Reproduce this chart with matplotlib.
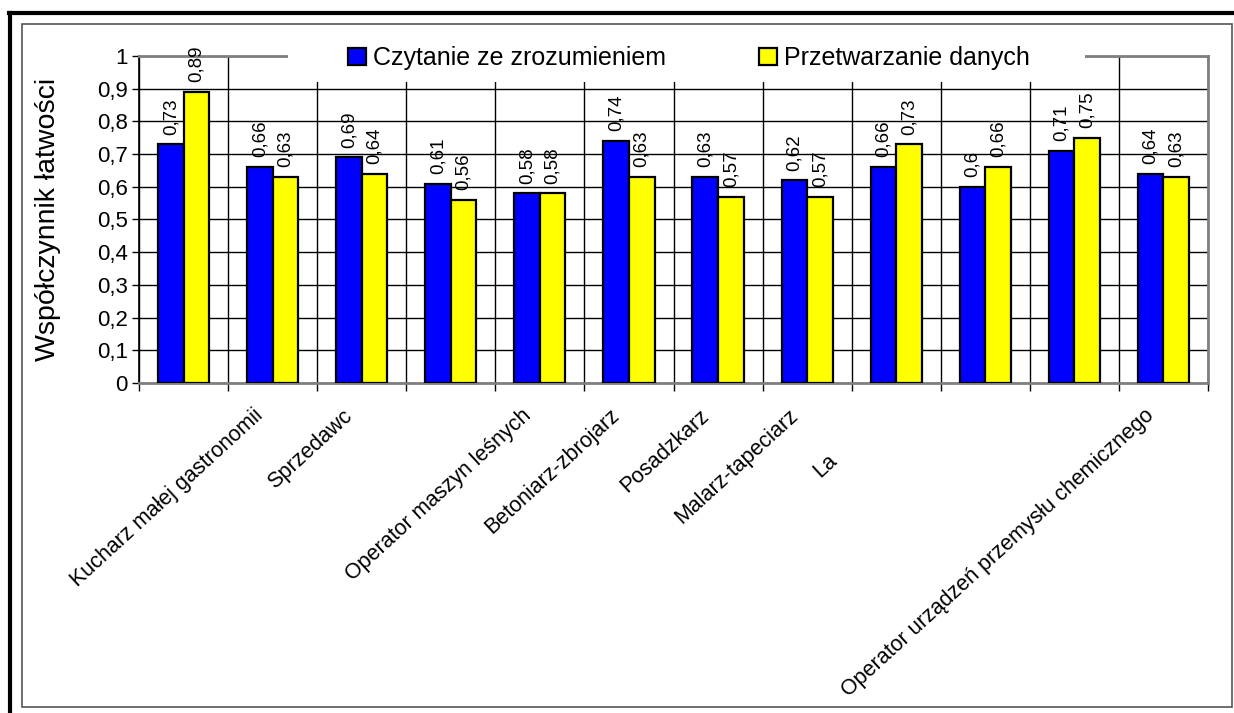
import matplotlib
matplotlib.use("Agg")
import matplotlib.pyplot as plt
import numpy as np
from matplotlib.patches import Patch, Rectangle
from matplotlib.lines import Line2D
from matplotlib.transforms import ScaledTranslation

plt.rcParams['font.family'] = ['Liberation Sans', 'DejaVu Sans']

# data
categories = ['Kucharz małej gastronomii', 'Sprzedawc', '', 'Operator maszyn leśnych',
              'Betoniarz-zbrojarz', 'Posadzkarz', 'Malarz-tapeciarz', 'La', '', '',
              'Operator urządzeń przemysłu chemicznego', '']
czytanie = [0.73, 0.66, 0.69, 0.61, 0.58, 0.74, 0.63, 0.62, 0.66, 0.6, 0.71, 0.64]
przetwarzanie = [0.89, 0.63, 0.64, 0.56, 0.58, 0.63, 0.57, 0.57, 0.73, 0.66, 0.75, 0.63]
series_names = ['Czytanie ze zrozumieniem', 'Przetwarzanie danych']
y_ticks = [0, 0.1, 0.2, 0.3, 0.4, 0.5, 0.6, 0.7, 0.8, 0.9, 1]

W, H = 1234, 713
fig = plt.figure(figsize=(W / 100, H / 100), dpi=100)
ax = fig.add_axes([139 / W, 1 - 383 / H, (1208 - 139) / W, (383 - 56) / H])

def pl(v):
    return f"{v:g}".replace('.', ',')

x = np.arange(len(categories))
w = 0.287
b1 = ax.bar(x - w / 2, czytanie, w, color='#0000FF', edgecolor='black', lw=1.6, zorder=3)
b2 = ax.bar(x + w / 2, przetwarzanie, w, color='#FFFF00', edgecolor='black', lw=1.6, zorder=3)
ax.bar_label(b1, labels=[pl(v) for v in czytanie], rotation=90, padding=7, fontsize=13.5)
ax.bar_label(b2, labels=[pl(v) for v in przetwarzanie], rotation=90, padding=7, fontsize=13.5)

ax.set_xlim(-0.5, len(categories) - 0.5)
ax.set_ylim(0, 1)

# y axis
ax.set_yticks(y_ticks, [pl(v) for v in y_ticks], fontsize=16)
ax.tick_params(axis='y', length=5, width=1, pad=3, color='black')
ax.yaxis.grid(True, color='black', lw=1)
ax.set_ylabel('Współczynnik łatwości', fontsize=20.5, va='center')
ax.yaxis.set_label_coords(-0.085, 0.5)

# x axis: boundaries as minor ticks + grid, labels at centers
ax.set_xticks(np.arange(len(categories) + 1) - 0.5, minor=True)
ax.set_xticks(x, categories, rotation=42.5, ha='right', va='top', rotation_mode='anchor', fontsize=15.5)
ax.tick_params(axis='x', which='major', length=0, pad=16)
ax.tick_params(axis='x', which='minor', length=6, width=1, color='black', direction='out')
ax.xaxis.grid(True, which='minor', color='black', lw=1)
ax.xaxis.grid(False, which='major')
ax.set_axisbelow(True)

for lab in ax.get_xticklabels():
    dx, dy = 70, 0
    if lab.get_text() == 'La':
        dx, dy = 70 - 50, -45
    lab.set_transform(lab.get_transform() + ScaledTranslation(dx / 100, dy / 100, fig.dpi_scale_trans))

for s in ['top', 'right', 'bottom']:
    ax.spines[s].set_color('#808080')
    ax.spines[s].set_linewidth(2)
ax.spines['left'].set_color('black')
ax.spines['left'].set_linewidth(1.2)

# legend on a white box covering the top grid line
ax.add_patch(Rectangle((288 / W, 1 - 82 / H), (1085 - 288) / W, 48 / H, transform=fig.transFigure,
                       facecolor='white', edgecolor='none', zorder=2.8, clip_on=False))
handles = [Patch(facecolor='#0000FF', edgecolor='black', lw=1.6),
           Patch(facecolor='#FFFF00', edgecolor='black', lw=1.6)]
leg = fig.legend(handles, series_names, loc='center left', bbox_to_anchor=(336 / W, 1 - 58 / H),
                 ncol=2, frameon=False, fontsize=18, borderpad=0, handlelength=0.7,
                 handleheight=0.7, handletextpad=0.3, columnspacing=3.7)

# outer frames
fig.add_artist(Rectangle((22 / W, 1 - 707 / H), (1232 - 22) / W, (707 - 24) / H, transform=fig.transFigure,
                         fill=False, edgecolor='#555555', lw=1.2))
fig.add_artist(Line2D([10 / W, 10 / W], [0, 1 - 13 / H], color='black', lw=3, transform=fig.transFigure))
fig.add_artist(Line2D([9 / W, 1], [1 - 13 / H, 1 - 13 / H], color='black', lw=3, transform=fig.transFigure))

fig.savefig('out.png', dpi=100, facecolor='white')
